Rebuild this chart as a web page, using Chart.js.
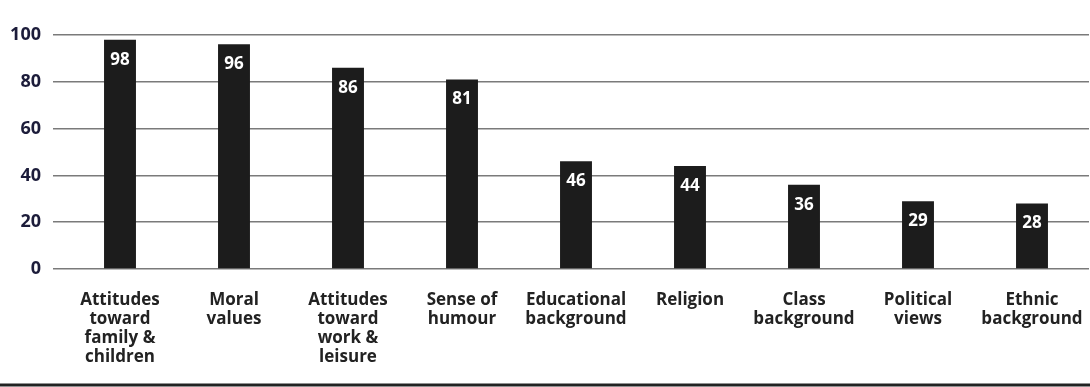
<!DOCTYPE html>
<html>
<head>
<meta charset="utf-8">
<script src="https://cdn.jsdelivr.net/npm/chart.js@4/dist/chart.umd.min.js"></script>
<style>
  body { margin: 0; background: #fff; }
  #wrap { width: 1090px; height: 387px; }
</style>
</head>
<body>
<div id="wrap"><canvas id="myChart" width="1090" height="387"></canvas></div>
<script>
// Data

var categories = [
    ["Attitudes", "toward", "family &", "children"],
    ["Moral", "values"],
    ["Attitudes", "toward", "work &", "leisure"],
    ["Sense of", "humour"],
    ["Educational", "background"],
    ["Religion"],
    ["Class", "background"],
    ["Political", "views"],
    ["Ethnic", "background"]
];
var values = [98, 96, 86, 81, 46, 44, 36, 29, 28];
var yTicks = [0, 20, 40, 60, 80, 100];

var fontFamily = "'Open Sans', 'DejaVu Sans', sans-serif";

// Value labels inside bars

var barLabels = {
    id: 'barLabels',
    afterDatasetsDraw: function (chart) {
        var ctx = chart.ctx;
        var meta = chart.getDatasetMeta(0);
        ctx.save();
        ctx.fillStyle = '#ffffff';
        ctx.font = 'bold 17px ' + fontFamily;
        ctx.textAlign = 'center';
        ctx.textBaseline = 'middle';
        meta.data.forEach(function (bar, i) {
            ctx.fillText(values[i], bar.x, bar.y + 20);
        });
        ctx.restore();
    }
};

// Bottom rule

var bottomRule = {
    id: 'bottomRule',
    afterDraw: function (chart) {
        var ctx = chart.ctx;
        ctx.save();
        ctx.strokeStyle = '#222222';
        ctx.lineWidth = 3;
        ctx.beginPath();
        ctx.moveTo(0, 385);
        ctx.lineTo(chart.width, 385);
        ctx.stroke();
        ctx.restore();
    }
};

var ctx = document.getElementById('myChart').getContext('2d');
var chart = new Chart(ctx, {
    type: 'bar',
    data: {
        labels: categories,
        datasets: [{
            data: values,
            backgroundColor: '#1c1c1c',
            borderColor: '#1c1c1c',
            categoryPercentage: 1,
            barPercentage: 0.28
        }]
    },
    options: {
        responsive: false,
        animation: false,
        layout: { padding: { top: 35, right: 1, left: 0, bottom: 0 } },
        plugins: {
            legend: { display: false },
            tooltip: { enabled: false }
        },
        scales: {
            x: {
                grid: { display: false },
                border: { display: false },
                ticks: {
                    maxRotation: 0,
                    autoSkip: false,
                    padding: 14,
                    color: '#222222',
                    font: { family: fontFamily, size: 17, weight: 'bold', lineHeight: '19px' }
                },
                afterFit: function (scale) {
                    scale.height = 118;
                    scale.paddingLeft = 0;
                    scale.paddingRight = 0;
                }
            },
            y: {
                min: 0,
                max: 100,
                afterBuildTicks: function (scale) {
                    scale.ticks = yTicks.map(function (v) { return { value: v }; });
                },
                grid: {
                    color: '#7a7a7a',
                    lineWidth: 1.5,
                    tickLength: 10,
                    tickColor: '#7a7a7a'
                },
                border: { display: false },
                ticks: {
                    padding: 12,
                    color: '#1c1c3a',
                    font: { family: fontFamily, size: 18, weight: 'bold' }
                },
                afterFit: function (scale) { scale.width = 63; }
            }
        }
    },
    plugins: [barLabels, bottomRule]
});
</script>
</body>
</html>
